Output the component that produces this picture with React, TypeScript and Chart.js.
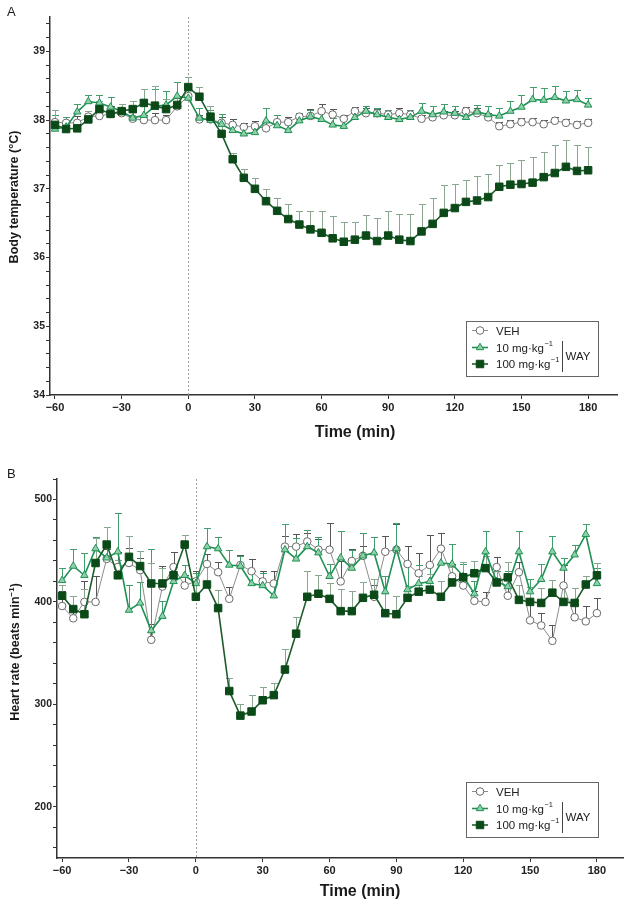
import React, { useEffect, useRef } from 'react';
import { Chart, registerables } from 'chart.js';

Chart.register(...registerables);

const FONT = "'Liberation Sans', Arial, Helvetica, sans-serif";
Chart.defaults.font.family = FONT;

// ---------- data ----------
const TIME = [-60, -55, -50, -45, -40, -35, -30, -25, -20, -15, -10, -5, 0, 5, 10, 15, 20, 25, 30, 35, 40, 45, 50, 55, 60, 65, 70, 75, 80, 85, 90, 95, 100, 105, 110, 115, 120, 125, 130, 135, 140, 145, 150, 155, 160, 165, 170, 175, 180];
const X_TICKS = [-60, -30, 0, 30, 60, 90, 120, 150, 180];
const A_Y_LABELS = [34, 35, 36, 37, 38, 39];
const B_Y_LABELS = [200, 300, 400, 500];
const SERIES_NAMES = ['VEH', '10 mg·kg', '100 mg·kg'];
const SERIES_SUPS = ['', '−1', '−1'];
const GROUP_NAME = 'WAY';

// Panel A: body temperature (°C)
const A_VEH = [37.97, 37.96, 37.96, 38.05, 38.06, 38.09, 38.1, 38.02, 38.0, 38.0, 38.0, 38.2, 38.35, 38.01, 38.01, 37.96, 37.93, 37.9, 37.91, 37.88, 37.97, 37.97, 38.05, 38.06, 38.13, 38.08, 38.02, 38.13, 38.1, 38.1, 38.08, 38.1, 38.08, 38.02, 38.04, 38.07, 38.07, 38.13, 38.1, 38.04, 37.91, 37.94, 37.97, 37.97, 37.94, 37.99, 37.96, 37.93, 37.96];
const A_VEH_ERR = [0.1, 0.08, 0.1, 0.08, 0.1, 0.12, 0.08, 0.1, 0.08, 0.1, 0.08, 0.12, 0.1, 0.06, 0.08, 0.08, 0.08, 0.06, 0.08, 0.1, 0.1, 0.08, 0.06, 0.1, 0.1, 0.08, 0.06, 0.06, 0.08, 0.06, 0.06, 0.08, 0.06, 0.06, 0.06, 0.06, 0.06, 0.06, 0.08, 0.06, 0.06, 0.06, 0.06, 0.06, 0.06, 0.06, 0.06, 0.06, 0.06];
const A_LOW = [37.87, 37.9, 38.12, 38.27, 38.25, 38.19, 38.13, 38.03, 38.07, 38.2, 38.22, 38.35, 38.32, 38.03, 38.0, 37.94, 37.85, 37.8, 37.82, 37.99, 37.92, 37.85, 37.99, 38.05, 38.01, 37.93, 37.91, 38.04, 38.13, 38.08, 38.04, 38.01, 38.04, 38.13, 38.08, 38.12, 38.1, 38.04, 38.12, 38.08, 38.06, 38.13, 38.19, 38.3, 38.29, 38.33, 38.28, 38.3, 38.22];
const A_LOW_ERR = [0.2, 0.15, 0.12, 0.1, 0.12, 0.15, 0.1, 0.12, 0.2, 0.25, 0.2, 0.2, 0.2, 0.15, 0.15, 0.15, 0.1, 0.1, 0.1, 0.18, 0.15, 0.12, 0.12, 0.1, 0.12, 0.1, 0.1, 0.12, 0.08, 0.1, 0.1, 0.1, 0.1, 0.12, 0.12, 0.12, 0.1, 0.1, 0.1, 0.12, 0.12, 0.15, 0.18, 0.18, 0.17, 0.17, 0.15, 0.14, 0.1];
const A_HIGH = [37.93, 37.87, 37.88, 38.01, 38.16, 38.09, 38.13, 38.16, 38.25, 38.21, 38.16, 38.22, 38.48, 38.34, 38.05, 37.8, 37.43, 37.16, 37.0, 36.82, 36.68, 36.56, 36.48, 36.41, 36.36, 36.28, 36.23, 36.26, 36.32, 36.24, 36.32, 36.26, 36.24, 36.38, 36.49, 36.65, 36.72, 36.81, 36.83, 36.88, 37.03, 37.06, 37.07, 37.09, 37.17, 37.23, 37.32, 37.26, 37.27];
const A_HIGH_ERR = [0.22, 0.12, 0.1, 0.12, 0.12, 0.1, 0.1, 0.12, 0.2, 0.28, 0.15, 0.12, 0.14, 0.14, 0.15, 0.12, 0.09, 0.13, 0.16, 0.18, 0.18, 0.22, 0.2, 0.26, 0.32, 0.32, 0.29, 0.26, 0.3, 0.33, 0.35, 0.37, 0.39, 0.4, 0.38, 0.41, 0.35, 0.32, 0.35, 0.34, 0.31, 0.32, 0.35, 0.37, 0.37, 0.41, 0.39, 0.38, 0.34];

// Panel B: heart rate (beats min-1)
const B_VEH = [396, 384, 400, 400, 442, 434, 438, 431, 363, 415, 434, 416, 420, 437, 429, 403, 436, 430, 420, 418, 454, 454, 459, 451, 451, 420, 440, 445, 405, 449, 451, 437, 428, 436, 452, 425, 416, 401, 400, 434, 406, 429, 382, 377, 362, 416, 385, 381, 389];
const B_VEH_ERR = [15, 10, 20, 25, 10, 15, 15, 12, 15, 20, 15, 10, 10, 10, 10, 12, 10, 12, 10, 12, 10, 12, 8, 10, 26, 20, 12, 10, 12, 15, 25, 18, 20, 29, 15, 12, 12, 10, 10, 10, 20, 10, 20, 12, 15, 20, 12, 15, 15];
const B_LOW = [421, 435, 426, 452, 443, 449, 392, 399, 372, 386, 420, 426, 418, 454, 452, 436, 435, 418, 416, 406, 451, 442, 454, 448, 425, 443, 433, 445, 448, 410, 452, 412, 418, 420, 438, 437, 425, 408, 449, 420, 415, 449, 410, 422, 449, 433, 446, 466, 418];
const B_LOW_ERR = [12, 17, 22, 11, 30, 38, 25, 20, 80, 15, 8, 10, 10, 18, 11, 15, 10, 12, 12, 15, 25, 20, 16, 15, 12, 26, 18, 22, 15, 15, 25, 25, 18, 15, 15, 20, 12, 12, 20, 10, 15, 20, 12, 15, 15, 10, 10, 10, 15];
const B_HIGH = [406, 393, 388, 438, 456, 426, 444, 435, 418, 418, 426, 456, 405, 417, 394, 313, 289, 293, 304, 309, 334, 369, 405, 408, 403, 391, 391, 404, 407, 389, 388, 404, 410, 412, 405, 419, 424, 428, 433, 419, 424, 402, 400, 399, 409, 400, 399, 417, 426];
const B_HIGH_ERR = [11, 13, 25, 24, 17, 15, 20, 15, 20, 15, 8, 9, 15, 20, 18, 13, 11, 16, 13, 12, 20, 16, 25, 18, 15, 22, 20, 15, 15, 20, 18, 12, 15, 15, 15, 15, 15, 12, 12, 15, 15, 15, 15, 15, 12, 15, 15, 8, 12];

// ---------- styles ----------
const STYLES = [
  { point: 'circle', radius: 3.8, line: '#8c8c8c', lineWidth: 1, border: '#6a6a6a', fill: '#ffffff', err: '#555555', order: 3 },
  { point: 'triangle', radius: 4.3, line: '#1f9153', lineWidth: 1.6, border: '#1f9153', fill: '#8fd0ab', err: '#3f9e6a', order: 2 },
  { point: 'rect', radius: 5.3, line: '#1c5d2b', lineWidth: 1.6, border: '#0b4a18', fill: '#0b4a18', err: '#8aa68e', order: 1 },
];

const AXIS_COLOR = '#333333';

interface PanelDef {
  top: number;
  height: number;
  padTop: number;
  padRight: number;
  yWidth: number;
  xHeight: number;
  xMin: number;
  xMax: number;
  yMin: number;
  yMax: number;
  yMinorFrom: number;
  yMinorStep: number;
  yLabels: number[];
  series: number[][];
  errors: number[][];
  legendRight: number;
  legendBottom: number;
}

const PANEL_A: PanelDef = {
  top: 0, height: 445, padTop: 17, padRight: 12, yWidth: 50, xHeight: 50,
  xMin: -62.25, xMax: 193, yMin: 34, yMax: 39.5, yMinorFrom: 34, yMinorStep: 0.2,
  yLabels: A_Y_LABELS,
  series: [A_VEH, A_LOW, A_HIGH], errors: [A_VEH_ERR, A_LOW_ERR, A_HIGH_ERR],
  legendRight: 19, legendBottom: 19,
};

const PANEL_B: PanelDef = {
  top: 455, height: 451, padTop: 24, padRight: 6, yWidth: 57, xHeight: 48,
  xMin: -62.3, xMax: 191.7, yMin: 150, yMax: 520, yMinorFrom: 160, yMinorStep: 20,
  yLabels: B_Y_LABELS,
  series: [B_VEH, B_LOW, B_HIGH], errors: [B_VEH_ERR, B_LOW_ERR, B_HIGH_ERR],
  legendRight: 25, legendBottom: 21,
};

function drawMarker(ctx: CanvasRenderingContext2D, idx: number, x: number, y: number) {
  const s = STYLES[idx];
  ctx.beginPath();
  if (s.point === 'circle') {
    ctx.arc(x, y, s.radius, 0, Math.PI * 2);
  } else if (s.point === 'triangle') {
    const r = s.radius;
    ctx.moveTo(x, y - r);
    ctx.lineTo(x + r * 0.866, y + r * 0.5);
    ctx.lineTo(x - r * 0.866, y + r * 0.5);
    ctx.closePath();
  } else {
    const h = s.radius * Math.SQRT1_2;
    ctx.rect(x - h, y - h, 2 * h, 2 * h);
  }
  ctx.fillStyle = s.fill;
  ctx.fill();
  ctx.lineWidth = 1;
  ctx.strokeStyle = s.border;
  ctx.stroke();
}

const errorBarPlugin = {
  id: 'errorBars',
  beforeDatasetsDraw(chart: any) {
    const ctx: CanvasRenderingContext2D = chart.ctx;
    const ys = chart.scales.y;
    const xs = chart.scales.x;
    // dotted line at injection time (t = 0)
    const x0 = Math.round(xs.getPixelForValue(0)) + 0.5;
    ctx.save();
    ctx.strokeStyle = '#9a9a9a';
    ctx.lineWidth = 1;
    ctx.setLineDash([2, 2]);
    ctx.beginPath();
    ctx.moveTo(x0, chart.chartArea.top);
    ctx.lineTo(x0, chart.chartArea.bottom);
    ctx.stroke();
    ctx.restore();

    chart.data.datasets.forEach((ds: any, di: number) => {
      const meta = chart.getDatasetMeta(di);
      const errs: number[] = ds.errors;
      ctx.save();
      ctx.strokeStyle = ds.errColor;
      ctx.lineWidth = 1;
      meta.data.forEach((pt: any, i: number) => {
        const v = ds.data[i].y;
        const top = ys.getPixelForValue(v + errs[i]);
        const x = Math.round(pt.x) + 0.5;
        const t = Math.round(top) + 0.5;
        ctx.beginPath();
        ctx.moveTo(x, pt.y);
        ctx.lineTo(x, t);
        ctx.moveTo(x - 3.5, t);
        ctx.lineTo(x + 3.5, t);
        ctx.stroke();
      });
      ctx.restore();
    });
  },
};

const legendPlugin = {
  id: 'wayLegend',
  afterDatasetsDraw(chart: any, _args: any, opts: any) {
    const ctx: CanvasRenderingContext2D = chart.ctx;
    const ca = chart.chartArea;
    const w = 132;
    const h = 55;
    const bx = Math.round(ca.right - opts.right - w);
    const by = Math.round(ca.bottom - opts.bottom - h);
    ctx.save();
    ctx.fillStyle = '#ffffff';
    ctx.fillRect(bx, by, w, h);
    ctx.strokeStyle = '#666666';
    ctx.lineWidth = 1;
    ctx.strokeRect(bx + 0.5, by + 0.5, w, h);
    const rowY = [by + 9.5, by + 26.5, by + 43];
    SERIES_NAMES.forEach((name, i) => {
      const y = rowY[i];
      const s = STYLES[i];
      ctx.strokeStyle = s.line;
      ctx.lineWidth = s.lineWidth;
      ctx.beginPath();
      ctx.moveTo(bx + 6, y);
      ctx.lineTo(bx + 22, y);
      ctx.stroke();
      drawMarker(ctx, i, bx + 14, y);
      ctx.fillStyle = '#222222';
      ctx.font = `11.5px ${FONT}`;
      ctx.textBaseline = 'middle';
      ctx.textAlign = 'left';
      ctx.fillText(name, bx + 30, y + 1);
      if (SERIES_SUPS[i]) {
        const tw = ctx.measureText(name).width;
        ctx.font = `7.5px ${FONT}`;
        ctx.fillText(SERIES_SUPS[i], bx + 30 + tw + 0.5, y - 4);
      }
    });
    ctx.strokeStyle = '#444444';
    ctx.lineWidth = 1;
    ctx.beginPath();
    ctx.moveTo(bx + 96.5, by + 20);
    ctx.lineTo(bx + 96.5, by + 51);
    ctx.stroke();
    ctx.fillStyle = '#222222';
    ctx.font = `11.5px ${FONT}`;
    ctx.textBaseline = 'middle';
    ctx.fillText(GROUP_NAME, bx + 99.5, by + 35.5);
    ctx.restore();
  },
};

function fmtX(v: number) {
  return v < 0 ? '−' + Math.abs(v) : String(v);
}

function buildConfig(def: PanelDef): any {
  const datasets = def.series.map((vals, i) => {
    const s = STYLES[i];
    return {
      label: SERIES_NAMES[i],
      data: TIME.map((t, k) => ({ x: t, y: vals[k] })),
      errors: def.errors[i],
      errColor: s.err,
      borderColor: s.line,
      borderWidth: s.lineWidth,
      pointStyle: s.point,
      pointRadius: s.radius,
      pointBorderWidth: 1,
      pointBorderColor: s.border,
      pointBackgroundColor: s.fill,
      backgroundColor: s.fill,
      tension: 0,
      fill: false,
      order: s.order,
    };
  });
  const yTickVals: number[] = [];
  for (let v = def.yMinorFrom; v <= def.yMax + 1e-9; v += def.yMinorStep) {
    yTickVals.push(Math.round(v * 100) / 100);
  }
  return {
    type: 'line',
    data: { datasets },
    plugins: [errorBarPlugin, legendPlugin],
    options: {
      animation: false,
      responsive: false,
      devicePixelRatio: 1,
      events: [],
      layout: { autoPadding: false, padding: { top: def.padTop, right: def.padRight, left: 0, bottom: 0 } },
      plugins: {
        legend: { display: false },
        tooltip: { enabled: false },
        title: { display: false },
        wayLegend: { right: def.legendRight, bottom: def.legendBottom },
      },
      scales: {
        x: {
          type: 'linear',
          min: def.xMin,
          max: def.xMax,
          afterBuildTicks: (s: any) => { s.ticks = X_TICKS.map((v) => ({ value: v })); },
          afterFit: (s: any) => { s.height = def.xHeight; },
          ticks: {
            autoSkip: false,
            maxRotation: 0,
            padding: 2,
            color: '#222222',
            font: { size: 11, weight: 'bold', family: FONT },
            callback: (v: any) => fmtX(Number(v)),
          },
          grid: { drawOnChartArea: false, drawTicks: true, tickLength: 4, color: AXIS_COLOR, lineWidth: 1 },
          border: { display: true, color: AXIS_COLOR, width: 1.5 },
          title: { display: false },
        },
        y: {
          type: 'linear',
          min: def.yMin,
          max: def.yMax,
          afterBuildTicks: (s: any) => { s.ticks = yTickVals.map((v) => ({ value: v })); },
          afterFit: (s: any) => { s.width = def.yWidth; },
          ticks: {
            autoSkip: false,
            padding: 1,
            color: '#222222',
            font: { size: 10.5, weight: 'bold', family: FONT },
            callback: (v: any) => {
              const n = Math.round(Number(v) * 100) / 100;
              return def.yLabels.includes(n) ? String(n) : '';
            },
          },
          grid: { drawOnChartArea: false, drawTicks: true, tickLength: 4, color: AXIS_COLOR, lineWidth: 1 },
          border: { display: true, color: AXIS_COLOR, width: 1.5 },
          title: { display: false },
        },
      },
    },
  };
}

function Panel({ def }: { def: PanelDef }) {
  const ref = useRef<HTMLCanvasElement | null>(null);
  useEffect(() => {
    const canvas = ref.current;
    if (!canvas) return;
    const chart = new Chart(canvas, buildConfig(def));
    return () => chart.destroy();
  }, [def]);
  return (
    <canvas
      ref={ref}
      width={629}
      height={def.height}
      style={{ position: 'absolute', left: 0, top: def.top, width: 629, height: def.height, display: 'block' }}
    />
  );
}

const textBase: React.CSSProperties = {
  position: 'absolute',
  whiteSpace: 'nowrap',
  lineHeight: 1,
  color: '#1a1a1a',
  fontFamily: FONT,
};

function Centered({ x, y, rotate, size, bold, children }: { x: number; y: number; rotate?: boolean; size: number; bold?: boolean; children: React.ReactNode }) {
  return (
    <div
      style={{
        ...textBase,
        left: x,
        top: y,
        fontSize: size,
        fontWeight: bold ? 'bold' : 'normal',
        transform: `translate(-50%, -50%)${rotate ? ' rotate(-90deg)' : ''}`,
      }}
    >
      {children}
    </div>
  );
}

export default function App() {
  return (
    <div style={{ position: 'absolute', left: 0, top: 0, width: 629, height: 906, background: '#ffffff', overflow: 'hidden' }}>
      <Panel def={PANEL_A} />
      <Panel def={PANEL_B} />
      <div style={{ ...textBase, left: 7, top: 5, fontSize: 13 }}>A</div>
      <div style={{ ...textBase, left: 7, top: 467, fontSize: 13 }}>B</div>
      <Centered x={14} y={197} rotate size={12.5} bold>Body temperature (°C)</Centered>
      <Centered x={15} y={652} rotate size={12.5} bold>
        Heart rate (beats min<sup style={{ fontSize: 8, verticalAlign: 'super', lineHeight: 0 }}>−1</sup>)
      </Centered>
      <Centered x={355} y={432} size={16} bold>Time (min)</Centered>
      <Centered x={360} y={891} size={16} bold>Time (min)</Centered>
    </div>
  );
}
